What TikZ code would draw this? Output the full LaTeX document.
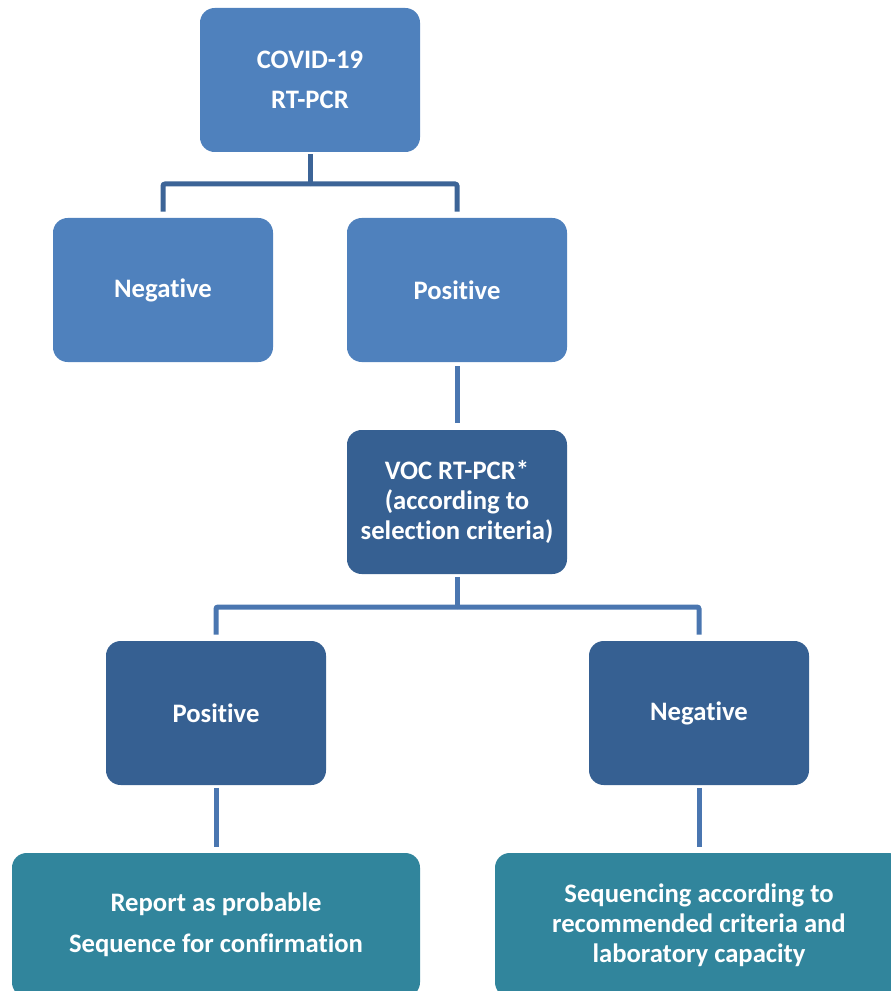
\documentclass[tikz,border=0pt]{standalone}
\usepackage{fontspec}
\setmainfont{Carlito}[Ligatures=NoCommon]
\usepackage{xcolor}
\usetikzlibrary{positioning,calc}
\definecolor{boxblue}{HTML}{4F81BD}
\definecolor{boxdark}{HTML}{366092}
\definecolor{boxteal}{HTML}{31859C}
\definecolor{linedark}{HTML}{3C6497}
\definecolor{lineblue}{HTML}{4A76B0}

\begin{document}
\begin{tikzpicture}[
    x=0.75pt, y=-0.75pt,
    box/.style={rectangle, rounded corners=11pt, minimum width=165pt, minimum height=108pt,
        inner sep=0pt, align=center, text=white, font=\bfseries\fontsize{20}{22.5}\selectfont},
    widebox/.style={box, minimum width=306pt},
    link/.style={line width=3.75pt, rounded corners=1.5pt}
]
    \useasboundingbox (0,0) rectangle (891,991);

    \node[box, fill=boxblue] (covid) at (310,80) {COVID-19\\[8pt]RT-PCR};
    \node[box, fill=boxblue] (neg1) at (163,290) {Negative};
    \node[box, fill=boxblue] (pos1) at (457,290) {Positive};
    \node[box, fill=boxdark] (voc) at (457,502) {VOC RT-PCR*\\(according to\\selection criteria)};
    \node[box, fill=boxdark] (pos2) at (216,713) {Positive};
    \node[box, fill=boxdark] (neg2) at (699,713) {Negative};
    \node[widebox, fill=boxteal] (report) at (216,925) {Report as probable\\[8pt]Sequence for confirmation};
    \node[widebox, fill=boxteal] (seq) at (699,925) {Sequencing according to\\recommended criteria and\\laboratory capacity};

    \coordinate (fork1) at (310,184);
    \coordinate (fork2) at (457,607);
    \draw[link, draw=linedark, shorten <=1.5pt] (covid) -- (fork1);
    \draw[link, draw=linedark, shorten >=4.5pt] (fork1) -| (neg1);
    \draw[link, draw=linedark, shorten >=4.5pt] (fork1) -| (pos1);
    \draw[link, draw=lineblue, shorten <=3pt, shorten >=5pt] (pos1) -- (voc);
    \draw[link, draw=lineblue, shorten <=2pt] (voc) -- (fork2);
    \draw[link, draw=lineblue, shorten >=4.5pt] (fork2) -| (pos2);
    \draw[link, draw=lineblue, shorten >=4.5pt] (fork2) -| (neg2);
    \draw[link, draw=lineblue, shorten <=2pt, shorten >=4.5pt] (pos2) -- (report);
    \draw[link, draw=lineblue, shorten <=2pt, shorten >=4.5pt] (neg2) -- (seq);
\end{tikzpicture}
\end{document}
